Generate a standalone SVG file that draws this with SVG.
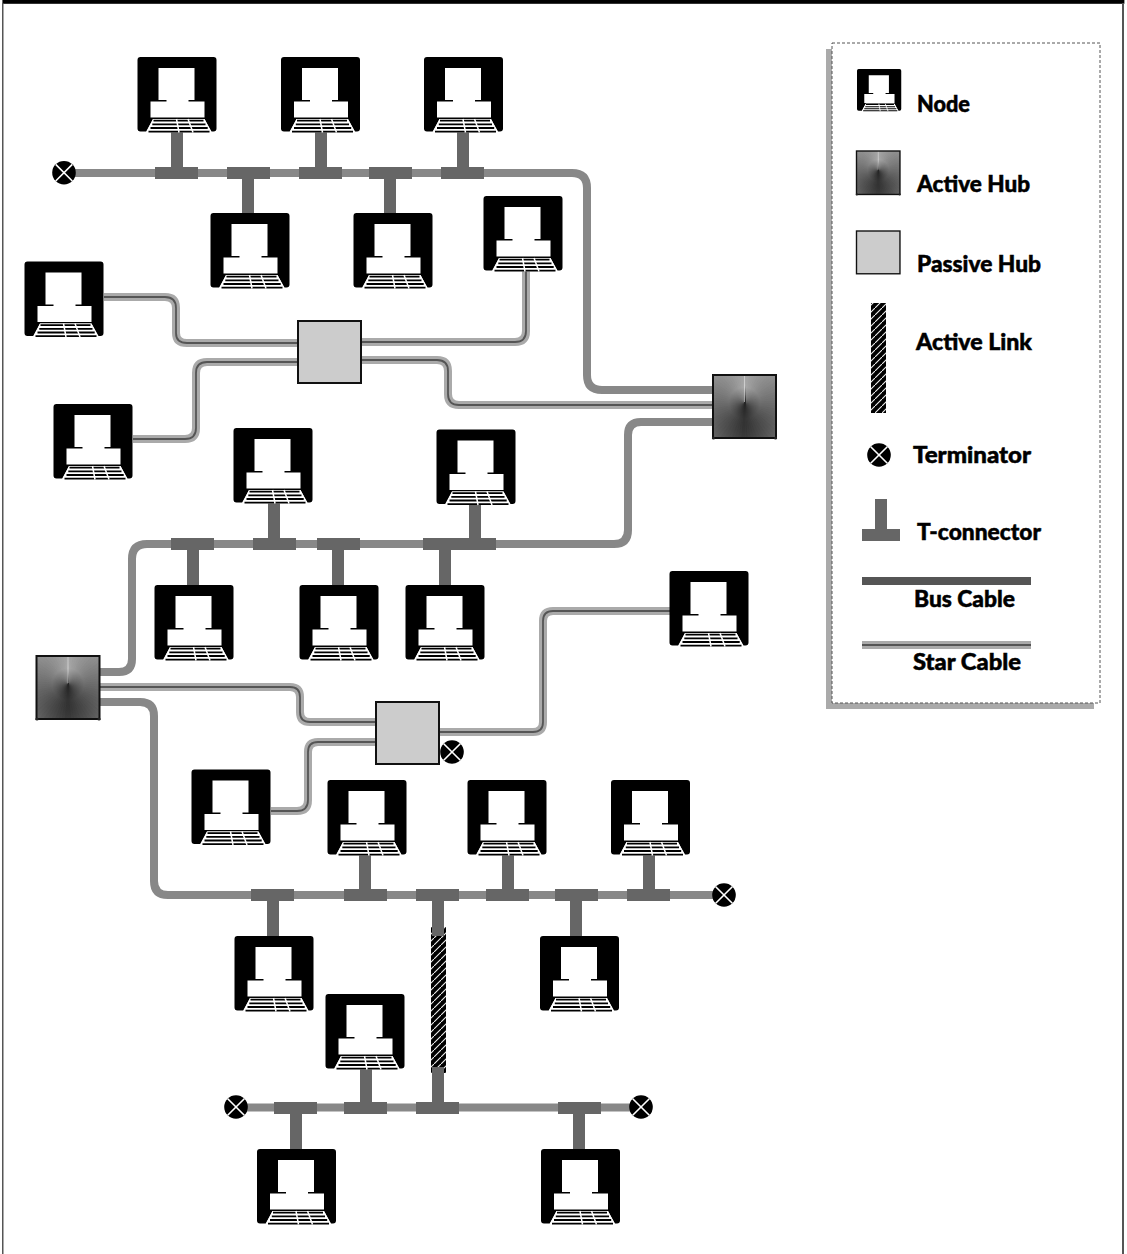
<svg xmlns="http://www.w3.org/2000/svg" xmlns:xlink="http://www.w3.org/1999/xlink" width="1127" height="1254" viewBox="0 0 1127 1254">
<style>
.bus{fill:none;stroke:#888;stroke-width:8}
.so{fill:none;stroke:#aaa;stroke-width:8}
.si{fill:none;stroke:#555;stroke-width:1.8}
.t{fill:#666}
.lb{font-family:"Lato","Noto Sans",sans-serif;font-weight:900;font-size:23px;fill:#000;stroke:#000;stroke-width:.5}
</style>
<defs>
<pattern id="hatch" patternUnits="userSpaceOnUse" width="7" height="7">
<rect width="7" height="7" fill="#000"/>
<path d="M-1 8L8 -1" stroke="#f0f0f0" stroke-width="1.1"/>
</pattern>
<clipPath id="hc"><rect x="0" y="0" width="63" height="63"/></clipPath>
<clipPath id="hh"><rect x="-1" y="-90" width="91" height="180"/></clipPath>
<radialGradient id="hr" gradientUnits="userSpaceOnUse" cx="31.5" cy="28" r="45">
<stop offset="0" stop-color="#000" stop-opacity=".3"/><stop offset=".35" stop-color="#000" stop-opacity="0"/><stop offset="1" stop-color="#fff" stop-opacity=".12"/>
</radialGradient>
<path id="w" d="M0 -90H90V90H0Z"/>
<g id="half" clip-path="url(#hh)">
<use href="#w" fill="#a8a8a8"/>
<use href="#w" fill="#a5a5a5" transform="rotate(5)"/>
<use href="#w" fill="#a1a1a1" transform="rotate(10)"/>
<use href="#w" fill="#9e9e9e" transform="rotate(15)"/>
<use href="#w" fill="#9b9b9b" transform="rotate(20)"/>
<use href="#w" fill="#979797" transform="rotate(25)"/>
<use href="#w" fill="#949494" transform="rotate(30)"/>
<use href="#w" fill="#919191" transform="rotate(35)"/>
<use href="#w" fill="#8d8d8d" transform="rotate(40)"/>
<use href="#w" fill="#8a8a8a" transform="rotate(45)"/>
<use href="#w" fill="#878787" transform="rotate(50)"/>
<use href="#w" fill="#838383" transform="rotate(55)"/>
<use href="#w" fill="#808080" transform="rotate(60)"/>
<use href="#w" fill="#7d7d7d" transform="rotate(65)"/>
<use href="#w" fill="#797979" transform="rotate(70)"/>
<use href="#w" fill="#767676" transform="rotate(75)"/>
<use href="#w" fill="#737373" transform="rotate(80)"/>
<use href="#w" fill="#6f6f6f" transform="rotate(85)"/>
<use href="#w" fill="#6c6c6c" transform="rotate(90)"/>
<use href="#w" fill="#696969" transform="rotate(95)"/>
<use href="#w" fill="#656565" transform="rotate(100)"/>
<use href="#w" fill="#626262" transform="rotate(105)"/>
<use href="#w" fill="#5f5f5f" transform="rotate(110)"/>
<use href="#w" fill="#5b5b5b" transform="rotate(115)"/>
<use href="#w" fill="#585858" transform="rotate(120)"/>
<use href="#w" fill="#555555" transform="rotate(125)"/>
<use href="#w" fill="#515151" transform="rotate(130)"/>
<use href="#w" fill="#4e4e4e" transform="rotate(135)"/>
<use href="#w" fill="#4b4b4b" transform="rotate(140)"/>
<use href="#w" fill="#474747" transform="rotate(145)"/>
<use href="#w" fill="#444444" transform="rotate(150)"/>
<use href="#w" fill="#414141" transform="rotate(155)"/>
<use href="#w" fill="#3d3d3d" transform="rotate(160)"/>
<use href="#w" fill="#3a3a3a" transform="rotate(165)"/>
<use href="#w" fill="#373737" transform="rotate(170)"/>
<use href="#w" fill="#333333" transform="rotate(175)"/>
</g>
<g id="activehub">
<g clip-path="url(#hc)">
<g transform="translate(31.5 28)">
<use href="#half"/>
<use href="#half" transform="scale(-1 1)"/>
<path d="M0 -1V-28" stroke="#d0d0d0" stroke-width="1"/>
</g>
<rect width="63" height="63" fill="url(#hr)"/>
</g>
<rect width="63" height="63" fill="none" stroke="#111" stroke-width="2"/>
<circle cx="0.5" cy="63" r="1.6" fill="#222"/><circle cx="62.5" cy="63" r="1.6" fill="#222"/>
</g>
<g id="passivehub">
<rect width="63" height="62" fill="#ccc" stroke="#111" stroke-width="2"/>
</g>
<g id="pc">
<path d="M3 0H76Q79 0 79 3V71.5Q79 74.5 76 74.5H74L67 62H15.5L8.7 74.500H3Q0 74.5 0 71.5V3Q0 0 3 0Z" fill="#000"/>
<path d="M21 11H57V43H51V44.5H67V60.5H13V44.5H29V43H21Z" fill="#fff"/>
<path d="M15.5 62H67L74 75.5H8.7Z" fill="#fff"/>
<path d="M16 63.6H66M14.8 67.3H68M13 71H70.2M11 74.7H72" stroke="#000" stroke-width="1.8"/>
<path d="M39 62L41.5 75.5M50.5 62L55.5 75.5" stroke="#fff" stroke-width="1.5"/>
</g>
<g id="term">
<circle r="11.8" fill="#000"/>
<path d="M-8.3 -8.3L8.3 8.3M-8.3 8.3L8.3 -8.3" stroke="#fff" stroke-width="1.6"/>
</g>
</defs>
<rect width="1127" height="1254" fill="#fff"/>
<g id="frame">
<rect x="2.4" y="0" width="1122" height="3.8" fill="#000"/>
<rect x="2" y="3" width="1.5" height="1251" fill="#555"/>
<rect x="1122" y="3" width="2" height="1251" fill="#555"/>
</g>
<g id="connectors">
<path class="bus" d="M64 173H572Q587 173 587 188V375Q587 390 602 390H713"/>
<path class="bus" d="M713 422H641Q628 422 628 435V530Q628 544 614 544H147Q132 544 132 559V659Q132 672 119 672H99"/>
<path class="bus" d="M99 702H140Q154 702 154 716V881Q154 895 168 895H724"/>
<path class="bus" d="M236 1107.500H641"/>
<g id="star-cables">
<path class="so" d="M104 297H165Q176 297 176 308V333Q176 343 187 343H298"/>
<path class="si" d="M104 297H165Q176 297 176 308V333Q176 343 187 343H298"/>
<path class="so" d="M133 439H185Q196 439 196 428V373Q196 362 207 362H298"/>
<path class="si" d="M133 439H185Q196 439 196 428V373Q196 362 207 362H298"/>
<path class="so" d="M361 342H515Q526 342 526 331V270"/>
<path class="si" d="M361 342H515Q526 342 526 331V270"/>
<path class="so" d="M361 360H437Q448 360 448 371V394Q448 405 459 405H713"/>
<path class="si" d="M361 360H437Q448 360 448 371V394Q448 405 459 405H713"/>
<path class="so" d="M99 687H290Q300 687 300 697V712Q300 722 310 722H376"/>
<path class="si" d="M99 687H290Q300 687 300 697V712Q300 722 310 722H376"/>
<path class="so" d="M376 742H318Q308 742 308 752V800Q308 811 297 811H271"/>
<path class="si" d="M376 742H318Q308 742 308 752V800Q308 811 297 811H271"/>
<path class="so" d="M439 732H533Q543 732 543 722V621Q543 611 553 611H670"/>
<path class="si" d="M439 732H533Q543 732 543 722V621Q543 611 553 611H670"/>
</g>
<rect id="active-link" x="431" y="927" width="15" height="146" fill="url(#hatch)"/>
<g id="t-connectors">
<path class="t" d="M155 167H171V130H183V167H198V179H155Z"/>
<path class="t" d="M227 167H270V179H254V215H242V179H227Z"/>
<path class="t" d="M299 167H315V130H327V167H342V179H299Z"/>
<path class="t" d="M369 167H412V179H396V215H384V179H369Z"/>
<path class="t" d="M441 167H457V130H469V167H484V179H441Z"/>
<path class="t" d="M171 538H214V550H199V587H187V550H171Z"/>
<path class="t" d="M253 538H268V501H280V538H296V550H253Z"/>
<path class="t" d="M317 538H360V550H344V587H332V550H317Z"/>
<path class="t" d="M423 538H466V550H451V587H439V550H423Z"/>
<path class="t" d="M453 538H469V502H481V538H496V550H453Z"/>
<path class="t" d="M251 889H294V901H279V938H267V901H251Z"/>
<path class="t" d="M344 889H359V853H371V889H387V901H344Z"/>
<path class="t" d="M416 889H459V901H444V936H432V901H416Z"/>
<path class="t" d="M486 889H502V853H514V889H529V901H486Z"/>
<path class="t" d="M555 889H598V901H582V938H570V901H555Z"/>
<path class="t" d="M627 889H643V853H655V889H670V901H627Z"/>
<path class="t" d="M274 1102H317V1114H302V1151H290V1114H274Z"/>
<path class="t" d="M344 1102H360V1067H372V1102H387V1114H344Z"/>
<path class="t" d="M416 1102H432V1067H444V1102H459V1114H416Z"/>
<path class="t" d="M558 1102H601V1114H585V1151H573V1114H558Z"/>
</g>
</g>
<g id="nodes">
<g id="node-1"><use href="#pc" transform="translate(137.500 57)"/></g>
<g id="node-2"><use href="#pc" transform="translate(281 57)"/></g>
<g id="node-3"><use href="#pc" transform="translate(424 57)"/></g>
<g id="node-4"><use href="#pc" transform="translate(210.500 213)"/></g>
<g id="node-5"><use href="#pc" transform="translate(353.500 213)"/></g>
<g id="node-6"><use href="#pc" transform="translate(483.500 196)"/></g>
<g id="node-7"><use href="#pc" transform="translate(24.500 261.500)"/></g>
<g id="node-8"><use href="#pc" transform="translate(53.500 404)"/></g>
<g id="node-9"><use href="#pc" transform="translate(233.500 428)"/></g>
<g id="node-10"><use href="#pc" transform="translate(436.500 429.500)"/></g>
<g id="node-11"><use href="#pc" transform="translate(154.500 585)"/></g>
<g id="node-12"><use href="#pc" transform="translate(299.500 585)"/></g>
<g id="node-13"><use href="#pc" transform="translate(405.500 585)"/></g>
<g id="node-14"><use href="#pc" transform="translate(669.500 571)"/></g>
<g id="node-15"><use href="#pc" transform="translate(191.500 769.500)"/></g>
<g id="node-16"><use href="#pc" transform="translate(327.500 780)"/></g>
<g id="node-17"><use href="#pc" transform="translate(467.500 780)"/></g>
<g id="node-18"><use href="#pc" transform="translate(611 780)"/></g>
<g id="node-19"><use href="#pc" transform="translate(234.500 936)"/></g>
<g id="node-20"><use href="#pc" transform="translate(540 936)"/></g>
<g id="node-21"><use href="#pc" transform="translate(325.500 994)"/></g>
<g id="node-22"><use href="#pc" transform="translate(257 1149)"/></g>
<g id="node-23"><use href="#pc" transform="translate(541 1149)"/></g>
</g>
<g id="active-hub-1"><use href="#activehub" transform="translate(713 375)"/></g>
<g id="active-hub-2"><use href="#activehub" transform="translate(36.500 656)"/></g>
<g id="passive-hub-1"><use href="#passivehub" transform="translate(298 321)"/></g>
<g id="passive-hub-2"><use href="#passivehub" transform="translate(376 702)"/></g>
<g id="terminator-1"><use href="#term" transform="translate(64 172.700)"/></g>
<g id="terminator-2"><use href="#term" transform="translate(452 752)"/></g>
<g id="terminator-3"><use href="#term" transform="translate(724 895)"/></g>
<g id="terminator-4"><use href="#term" transform="translate(236 1107)"/></g>
<g id="terminator-5"><use href="#term" transform="translate(641 1107)"/></g>
<g id="legend">
<rect x="826" y="49" width="268" height="660" fill="#aaa"/>
<rect x="832" y="43" width="268" height="660" fill="#fff" stroke="#555" stroke-width="1" stroke-dasharray="3 2"/>
<use href="#pc" transform="translate(857 69) scale(.56)"/>
<use href="#activehub" transform="translate(856.500 151) scale(.69)"/>
<use href="#passivehub" transform="translate(856.500 231) scale(.69)"/>
<rect x="871" y="303" width="15" height="110" fill="url(#hatch)"/>
<use href="#term" transform="translate(879 455)"/>
<path class="t" d="M862 529H875V499H887V529H900V541H862Z"/>
<rect x="862" y="577" width="169" height="8" fill="#555"/>
<rect x="862" y="641" width="169" height="8" fill="#aaa"/>
<rect x="862" y="644" width="169" height="2" fill="#555"/>
<text class="lb" x="917" y="112" textLength="53" lengthAdjust="spacingAndGlyphs">Node</text>
<text class="lb" x="917" y="192" textLength="113" lengthAdjust="spacingAndGlyphs">Active Hub</text>
<text class="lb" x="917" y="272" textLength="124" lengthAdjust="spacingAndGlyphs">Passive Hub</text>
<text class="lb" x="916" y="350" textLength="116" lengthAdjust="spacingAndGlyphs">Active Link</text>
<text class="lb" x="913" y="463" textLength="118" lengthAdjust="spacingAndGlyphs">Terminator</text>
<text class="lb" x="917" y="540" textLength="124" lengthAdjust="spacingAndGlyphs">T-connector</text>
<text class="lb" x="914" y="607" textLength="101" lengthAdjust="spacingAndGlyphs">Bus Cable</text>
<text class="lb" x="913" y="670" textLength="108" lengthAdjust="spacingAndGlyphs">Star Cable</text>
</g>
</svg>
